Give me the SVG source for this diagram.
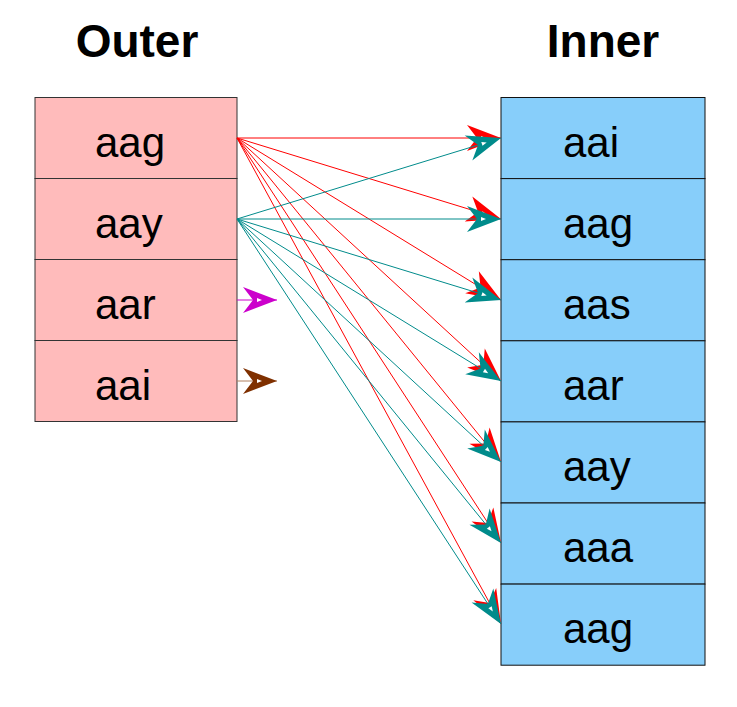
<svg xmlns="http://www.w3.org/2000/svg" width="737" height="707" viewBox="0 0 737 707">
<style>
.title{font-family:"Liberation Sans",Arial,sans-serif;font-weight:bold;font-size:46px;fill:#000;text-anchor:middle}
.lbl{font-family:"Liberation Sans",Arial,sans-serif;font-size:42px;fill:#000}
.outer{fill:#ffbbbb;stroke:#333;stroke-width:1}
.inner{fill:#87cefa;stroke:#111;stroke-width:1}
.red{stroke:#ff0000;stroke-width:1;fill:none;marker-end:url(#mRed)}
.teal{stroke:#008b8b;stroke-width:1;fill:none;marker-end:url(#mTeal)}
</style>
<defs>
<marker id="mRed" markerUnits="userSpaceOnUse" orient="auto" markerWidth="40" markerHeight="30" viewBox="-36 -15 40 30" refX="0" refY="0" overflow="visible">
<path d="M0,0 L-34,-13 L-24,0 L-34,13 Z" fill="#ff0000"/>
<path d="M-20,-2 L-15,0 L-20,2 Z" fill="#fff"/>
</marker>
<marker id="mTeal" markerUnits="userSpaceOnUse" orient="auto" markerWidth="40" markerHeight="30" viewBox="-36 -15 40 30" refX="0" refY="0" overflow="visible">
<path d="M0,0 L-34,-13 L-24,0 L-34,13 Z" fill="#008b8b"/>
<path d="M-20,-2 L-15,0 L-20,2 Z" fill="#fff"/>
</marker>
<marker id="mMag" markerUnits="userSpaceOnUse" orient="auto" markerWidth="40" markerHeight="30" viewBox="-36 -15 40 30" refX="0" refY="0" overflow="visible">
<path d="M0,0 L-34,-13 L-24,0 L-34,13 Z" fill="#cc00cc"/>
<path d="M-20,-2 L-15,0 L-20,2 Z" fill="#fff"/>
</marker>
<marker id="mBrown" markerUnits="userSpaceOnUse" orient="auto" markerWidth="40" markerHeight="30" viewBox="-36 -15 40 30" refX="0" refY="0" overflow="visible">
<path d="M0,0 L-34,-13 L-24,0 L-34,13 Z" fill="#7f3000"/>
<path d="M-20,-2 L-15,0 L-20,2 Z" fill="#fff"/>
</marker>
</defs>
<rect width="737" height="707" fill="#fff"/>
<text class="title" x="137" y="57">Outer</text>
<text class="title" x="603" y="57">Inner</text>

<g id="outer">
<g id="outer-aag"><rect class="outer" x="35" y="97.5" width="202" height="81"/><text class="lbl" x="95" y="157">aag</text></g>
<g id="outer-aay"><rect class="outer" x="35" y="178.5" width="202" height="81"/><text class="lbl" x="95" y="238">aay</text></g>
<g id="outer-aar"><rect class="outer" x="35" y="259.5" width="202" height="81"/><text class="lbl" x="95" y="319">aar</text></g>
<g id="outer-aai"><rect class="outer" x="35" y="340.5" width="202" height="81"/><text class="lbl" x="95" y="400">aai</text></g>
</g>

<g id="inner">
<g id="inner-aai"><rect class="inner" x="501" y="97.5" width="204" height="81.1"/><text class="lbl" x="563" y="157">aai</text></g>
<g id="inner-aag1"><rect class="inner" x="501" y="178.6" width="204" height="81.1"/><text class="lbl" x="563" y="238">aag</text></g>
<g id="inner-aas"><rect class="inner" x="501" y="259.7" width="204" height="81.1"/><text class="lbl" x="563" y="319">aas</text></g>
<g id="inner-aar"><rect class="inner" x="501" y="340.8" width="204" height="81.1"/><text class="lbl" x="563" y="400">aar</text></g>
<g id="inner-aay"><rect class="inner" x="501" y="421.9" width="204" height="81.1"/><text class="lbl" x="563" y="481">aay</text></g>
<g id="inner-aaa"><rect class="inner" x="501" y="503" width="204" height="81.1"/><text class="lbl" x="563" y="562">aaa</text></g>
<g id="inner-aag2"><rect class="inner" x="501" y="584.1" width="204" height="81.1"/><text class="lbl" x="563" y="643">aag</text></g>
</g>

<g id="connectors">
<line class="red" x1="237" y1="138" x2="501" y2="138"/>
<line class="red" x1="237" y1="138" x2="501" y2="219"/>
<line class="red" x1="237" y1="138" x2="501" y2="300"/>
<line class="red" x1="237" y1="138" x2="501" y2="381"/>
<line class="red" x1="237" y1="138" x2="501" y2="462"/>
<line class="red" x1="237" y1="138" x2="501" y2="543"/>
<line class="red" x1="237" y1="138" x2="501" y2="624"/>
<line class="teal" x1="237" y1="219" x2="501" y2="138"/>
<line class="teal" x1="237" y1="219" x2="501" y2="219"/>
<line class="teal" x1="237" y1="219" x2="501" y2="300"/>
<line class="teal" x1="237" y1="219" x2="501" y2="381"/>
<line class="teal" x1="237" y1="219" x2="501" y2="462"/>
<line class="teal" x1="237" y1="219" x2="501" y2="543"/>
<line class="teal" x1="237" y1="219" x2="501" y2="624"/>
<line x1="237" y1="300" x2="277" y2="300" stroke="#cc00cc" stroke-width="1" marker-end="url(#mMag)"/>
<line x1="237" y1="381" x2="277" y2="381" stroke="#b08060" stroke-width="1" marker-end="url(#mBrown)"/>
</g>
</svg>
